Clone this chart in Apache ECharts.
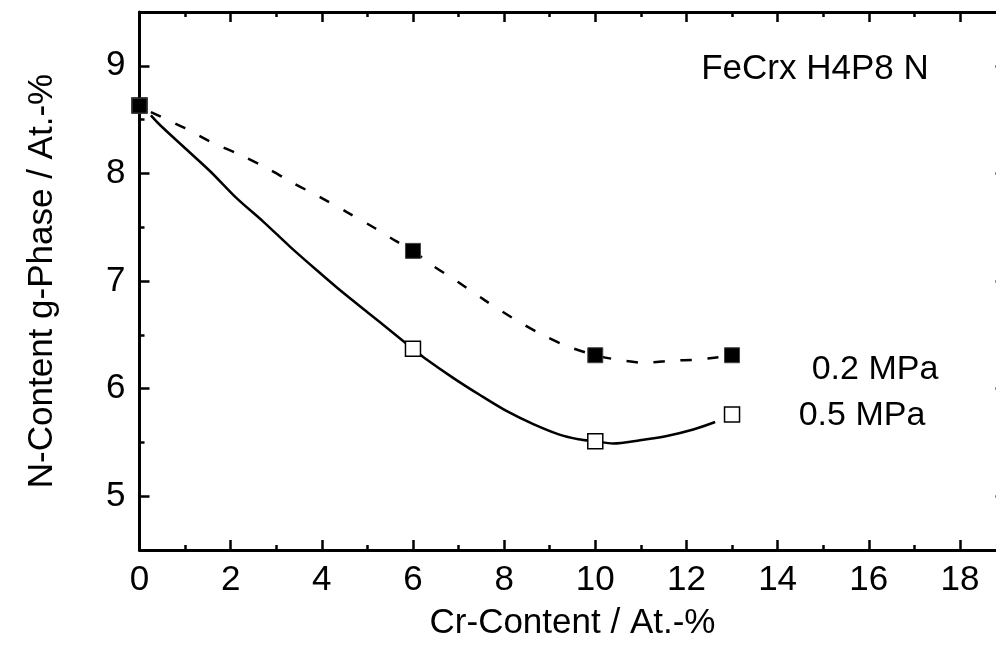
<!DOCTYPE html>
<html>
<head>
<meta charset="utf-8">
<script src="https://cdn.jsdelivr.net/npm/echarts@6/dist/echarts.min.js"></script>
<style>
  html, body { margin: 0; padding: 0; background: #fff; }
  #chart { width: 996px; height: 647px; }
</style>
</head>
<body>
<div id="chart"></div>
<script>
// ---- data ----
const crContent = [0, 6, 10, 13];
const nContent02 = [8.63, 7.28, 6.31, 6.31];   // filled squares, 0.2 MPa
const nContent05 = [8.63, 6.37, 5.51, 5.76];   // open squares, 0.5 MPa

// fitted curves
const fit02X = [0.25, 1.0, 1.58, 2.17, 2.79, 3.37, 3.96, 4.55, 5.17, 5.63, 6.0, 6.41, 6.99, 7.58, 8.17, 8.75, 9.35, 10.0, 10.47, 11.09, 11.68, 12.26, 12.85];
const fit02Y = [8.57, 8.42, 8.29, 8.18, 8.05, 7.91, 7.78, 7.64, 7.49, 7.37, 7.28, 7.15, 6.99, 6.82, 6.66, 6.52, 6.40, 6.31, 6.27, 6.24, 6.26, 6.27, 6.30];
const fit05X = [0.25, 0.45, 0.96, 1.55, 2.13, 2.72, 3.30, 3.89, 4.47, 5.0, 5.5, 6.0, 6.30, 6.88, 7.47, 8.06, 8.64, 9.23, 9.63, 10.0, 10.39, 10.98, 11.57, 12.15, 12.63];
const fit05Y = [8.54, 8.45, 8.25, 8.02, 7.77, 7.55, 7.32, 7.10, 6.89, 6.71, 6.54, 6.37, 6.27, 6.10, 5.94, 5.79, 5.67, 5.57, 5.53, 5.51, 5.49, 5.52, 5.56, 5.62, 5.69];

const xTicks = [0, 2, 4, 6, 8, 10, 12, 14, 16, 18];
const xMinorTicks = [1, 3, 5, 7, 9, 11, 13, 15, 17];
const yTicks = [5, 6, 7, 8, 9];
const yMinorTicks = [5.5, 6.5, 7.5, 8.5];

const xName = 'Cr-Content / At.-%';
const yName = 'N-Content g-Phase / At.-%';
const annTitle = 'FeCrx H4P8 N';
const label02 = '0.2 MPa';
const label05 = '0.5 MPa';

// ---- chart ----
const FONT = '"Liberation Sans", Arial, sans-serif';
const zip = (a, b) => a.map((v, i) => [v, b[i]]);

function xAx(pos, vals, len, showLine, showLabel, extra) {
  return Object.assign({
    type: 'value', position: pos, min: 0, max: 19,
    axisLine: { show: showLine, onZero: false, lineStyle: { color: '#000', width: 3, opacity: 1 } },
    axisTick: { show: true, inside: true, length: len, customValues: vals, lineStyle: { color: '#000', width: 2.5, opacity: 1 } },
    axisLabel: { show: showLabel, customValues: xTicks, color: '#000', fontSize: 35, fontFamily: FONT, margin: 13 },
    splitLine: { show: false }
  }, extra || {});
}
function yAx(pos, vals, len, showLine, showLabel, extra) {
  return Object.assign({
    type: 'value', position: pos, min: 4.5, max: 9.5,
    axisLine: { show: showLine, onZero: false, lineStyle: { color: '#000', width: 3, opacity: 1 } },
    axisTick: { show: true, inside: true, length: len, customValues: vals, lineStyle: { color: '#000', width: 2.5, opacity: 1 } },
    axisLabel: { show: showLabel, customValues: yTicks, color: '#000', fontSize: 35, fontFamily: FONT, margin: 14 },
    splitLine: { show: false }
  }, extra || {});
}

const chart = echarts.init(document.getElementById('chart'), null, { renderer: 'canvas', width: 996, height: 647 });
chart.setOption({
  animation: false,
  backgroundColor: '#fff',
  grid: { left: 139.5, top: 12, width: 866, height: 538, containLabel: false, outerBoundsMode: 'none' },
  xAxis: [
    xAx('bottom', xTicks, 10, true, true, {
      name: xName, nameLocation: 'middle', nameGap: 56,
      nameTextStyle: { color: '#000', fontSize: 35, fontFamily: FONT }
    }),
    xAx('top', xTicks, 10, true, false),
    xAx('bottom', xMinorTicks, 5, false, false),
    xAx('top', xMinorTicks, 5, false, false)
  ],
  yAxis: [
    yAx('left', yTicks, 10, true, true, {
      name: yName, nameLocation: 'middle', nameGap: 80, nameRotate: 90,
      nameTextStyle: { color: '#000', fontSize: 35, fontFamily: FONT }
    }),
    yAx('right', yTicks, 10, true, false),
    yAx('left', yMinorTicks, 5, false, false),
    yAx('right', yMinorTicks, 5, false, false)
  ],
  series: [
    {
      type: 'line', xAxisIndex: 0, yAxisIndex: 0, data: zip(fit02X, fit02Y),
      showSymbol: false, smooth: 0.3,
      lineStyle: { color: '#000', width: 2.5, type: [11, 16] }, z: 2
    },
    {
      type: 'line', xAxisIndex: 0, yAxisIndex: 0, data: zip(fit05X, fit05Y),
      showSymbol: false, smooth: 0.3,
      lineStyle: { color: '#000', width: 2.5, type: 'solid' }, z: 2
    },
    {
      name: label05, type: 'scatter', xAxisIndex: 0, yAxisIndex: 0, data: zip(crContent, nContent05),
      symbol: 'rect', symbolSize: 15,
      itemStyle: { color: '#fff', borderColor: '#000', borderWidth: 1.5, opacity: 1 }, z: 3
    },
    {
      name: label02, type: 'scatter', xAxisIndex: 0, yAxisIndex: 0, data: zip(crContent, nContent02),
      symbol: 'rect', symbolSize: 15,
      itemStyle: { color: '#000', borderColor: '#444', borderWidth: 1, opacity: 1 }, z: 4
    }
  ],
  graphic: [
    { type: 'text', x: 815, y: 69, style: { text: annTitle, fill: '#000', fontSize: 35, fontFamily: FONT, align: 'center', verticalAlign: 'middle' } },
    { type: 'text', x: 875, y: 370, style: { text: label02, fill: '#000', fontSize: 34, fontFamily: FONT, align: 'center', verticalAlign: 'middle' } },
    { type: 'text', x: 862, y: 416, style: { text: label05, fill: '#000', fontSize: 34, fontFamily: FONT, align: 'center', verticalAlign: 'middle' } }
  ]
});
</script>
</body>
</html>
